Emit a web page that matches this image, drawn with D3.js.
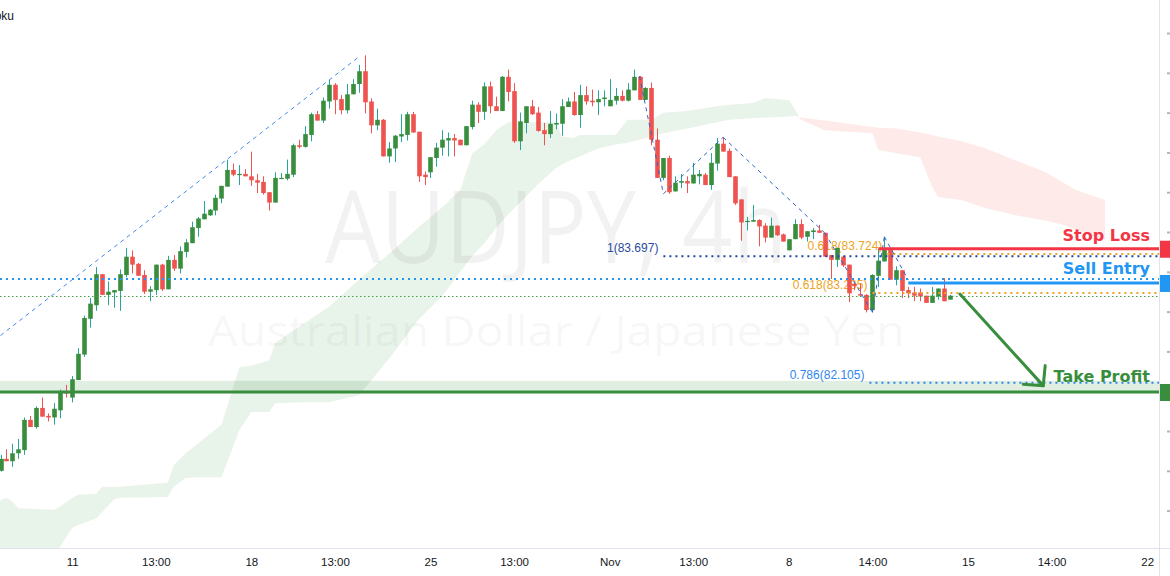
<!DOCTYPE html>
<html>
<head>
<meta charset="utf-8">
<script src="https://cdn.jsdelivr.net/npm/d3@7/dist/d3.min.js"></script>
<style>
html,body{margin:0;padding:0;background:#ffffff;}
svg{display:block;}
</style>
</head>
<body>
<svg id="chart" width="1170" height="576"></svg>
<script>
// ================= DATA =================
const openP = [
81.00,81.15,81.12,81.22,81.26,81.64,81.55,81.79,81.69,81.67,
81.76,81.99,81.92,82.14,82.46,82.91,83.08,83.47,83.21,83.24,
83.26,83.46,83.69,83.60,83.46,83.25,83.27,83.59,83.28,83.65,
83.54,83.75,83.86,84.05,84.16,84.21,84.27,84.42,84.57,84.78,
84.72,84.73,84.70,84.65,84.63,84.50,84.37,84.67,84.67,84.72,
85.09,85.07,85.22,85.48,85.40,85.64,85.85,85.67,85.53,85.73,
85.86,86.02,85.64,85.34,85.41,84.95,85.05,85.20,85.22,85.48,
85.26,84.72,84.75,84.93,85.06,85.15,85.18,85.16,85.09,85.32,
85.60,85.51,85.83,85.58,85.52,85.95,85.77,85.14,85.37,85.58,
85.50,85.28,85.23,85.35,85.36,85.57,85.64,85.47,85.72,85.65,
85.63,85.67,85.58,85.65,85.71,85.65,85.78,85.95,85.66,85.81,
85.16,84.68,84.93,84.51,84.62,84.64,84.61,84.70,84.72,84.59,
84.86,85.11,85.02,84.70,84.41,84.13,84.13,84.15,84.08,83.93,
84.08,83.97,83.77,83.91,84.10,83.94,84.00,84.02,83.99,83.71,
83.65,83.69,83.59,83.35,83.22,83.21,83.02,83.45,83.63,83.78,
83.40,83.52,83.27,83.24,83.24,83.20,83.11,83.19,83.29,83.15];
const highP = [
81.20,81.27,81.34,81.40,81.67,81.69,81.81,81.92,81.72,81.85,
82.02,82.08,82.19,82.54,82.95,83.17,83.56,83.47,83.38,83.27,
83.53,83.80,83.77,83.61,83.52,83.32,83.59,83.60,83.70,83.71,
83.82,83.91,84.13,84.19,84.39,84.29,84.47,84.58,84.91,84.86,
84.84,84.79,85.01,84.73,84.70,84.50,84.75,84.74,84.91,85.11,
85.16,85.33,85.50,85.52,85.69,85.91,85.87,85.72,85.86,85.92,
86.10,86.22,85.68,85.55,85.42,85.13,85.22,85.48,85.51,85.51,
85.26,84.76,84.94,85.12,85.28,85.25,85.23,85.16,85.33,85.65,
85.63,85.88,85.89,85.70,85.96,86.04,85.87,85.50,85.58,85.66,
85.57,85.37,85.52,85.49,85.67,85.69,85.76,85.85,85.83,85.79,
85.78,85.78,85.92,85.81,85.78,85.87,86.04,85.96,85.82,85.88,
85.30,84.93,84.96,84.70,84.73,84.70,84.87,84.78,84.74,84.99,
85.18,85.19,85.05,84.70,84.41,84.19,84.34,84.16,84.11,84.18,
84.08,83.98,83.91,84.16,84.16,84.01,84.05,84.09,83.99,83.71,
83.80,83.70,83.59,83.35,83.35,83.22,83.47,83.79,83.94,83.80,
83.57,83.52,83.31,83.31,83.29,83.20,83.31,83.29,83.42,83.21];
const lowP = [
80.99,81.12,81.05,81.15,81.20,81.55,81.53,81.68,81.62,81.58,
81.66,81.92,81.86,82.14,82.43,82.80,83.01,83.21,83.08,83.05,
83.01,83.43,83.48,83.45,83.22,83.13,83.21,83.26,83.28,83.51,
83.48,83.68,83.86,83.94,84.16,84.20,84.21,84.36,84.57,84.70,
84.59,84.70,84.58,84.49,84.47,84.27,84.37,84.67,84.65,84.69,
85.05,85.06,85.14,85.40,85.37,85.55,85.48,85.48,85.49,85.73,
85.75,85.49,85.24,85.28,84.95,84.87,84.88,85.13,85.15,85.25,
84.63,84.59,84.68,84.82,84.96,84.95,84.95,85.09,85.09,85.29,
85.37,85.41,85.49,85.52,85.52,85.64,85.12,85.03,85.24,85.47,
85.26,85.09,85.18,85.29,85.21,85.57,85.46,85.31,85.60,85.58,
85.47,85.58,85.58,85.60,85.64,85.64,85.78,85.66,85.66,85.09,
84.68,84.65,84.48,84.51,84.55,84.49,84.61,84.60,84.59,84.53,
84.77,85.01,84.69,84.34,83.89,84.02,84.13,83.82,83.87,83.93,
83.95,83.88,83.77,83.91,83.91,83.88,83.91,83.99,83.69,83.41,
83.56,83.56,83.12,83.27,83.20,82.99,82.99,83.31,83.63,83.40,
83.33,83.17,83.17,83.13,83.13,83.11,83.11,83.15,83.13,83.15];
const closeP = [
81.15,81.12,81.22,81.27,81.64,81.55,81.79,81.68,81.67,81.78,
81.99,81.97,82.15,82.47,82.92,83.10,83.47,83.21,83.25,83.27,
83.47,83.69,83.59,83.45,83.25,83.28,83.59,83.28,83.65,83.54,
83.76,83.87,84.06,84.17,84.23,84.28,84.43,84.58,84.78,84.72,
84.73,84.70,84.65,84.62,84.49,84.37,84.68,84.68,84.73,85.09,
85.07,85.23,85.48,85.40,85.65,85.85,85.66,85.53,85.73,85.86,
86.02,85.63,85.34,85.41,84.95,85.05,85.21,85.23,85.48,85.25,
84.70,84.69,84.94,85.06,85.16,85.18,85.15,85.09,85.33,85.60,
85.51,85.83,85.58,85.52,85.95,85.76,85.14,85.39,85.58,85.48,
85.27,85.23,85.36,85.37,85.58,85.64,85.47,85.72,85.64,85.63,
85.67,85.69,85.66,85.71,85.65,85.79,85.95,85.66,85.81,85.16,
84.68,84.93,84.50,84.62,84.64,84.61,84.72,84.73,84.59,84.87,
85.11,85.01,84.69,84.36,84.12,84.14,84.15,84.07,83.93,84.08,
83.96,83.88,83.91,84.10,83.93,84.01,84.02,83.99,83.69,83.65,
83.80,83.58,83.23,83.32,83.20,83.02,83.46,83.64,83.78,83.40,
83.52,83.26,83.23,83.20,83.19,83.11,83.20,83.29,83.13,83.20];

const dayTickIndex = [12,26,42,56,72,86,102,116,132,146,162,176,192];
const dayTickLabel = ["11","13:00","18","13:00","25","13:00","Nov","13:00","8","14:00","15","14:00","22"];
const priceTicks = [86.5,86,85.5,85,84.5,84,83.5,83,82.5,82,81.5,81,80.5];

// Ichimoku cloud (Senkou span A / B, already displaced forward)
const cloudIndex = [-3,0,1,2,3,9,10,12,13,16,17,19,20,28,29,31,33,37,40,42,45,46,50,55,60,65,70,74,77,79,81,83,85,90,93,94,96,97,100,103,105,107,109,111,115,120,122,126,128,132,133,134,135,138,146,147,150,154,156,157,161,165,170,175,178,180,185];
const spanA = [80.63,80.63,80.66,80.61,80.53,80.51,80.55,80.66,80.70,80.71,80.80,80.80,80.80,80.85,81.07,81.22,81.34,81.58,82.30,82.32,82.39,82.61,82.81,83.06,83.40,83.72,84.06,84.31,84.53,84.99,85.10,85.28,85.38,85.38,85.38,85.20,85.18,85.22,85.22,85.22,85.41,85.41,85.41,85.50,85.52,85.58,85.60,85.62,85.68,85.66,85.55,85.41,85.38,85.28,85.24,85.03,84.99,84.94,84.57,84.44,84.40,84.30,84.21,84.14,84.09,84.03,83.90];
const spanB = [79.90,79.90,79.90,79.90,79.90,79.95,80.05,80.28,80.32,80.40,80.48,80.64,80.66,80.67,80.80,80.91,80.92,80.92,81.51,81.74,81.74,81.85,81.86,81.86,81.95,82.40,82.90,83.20,83.50,83.70,83.86,84.05,84.22,84.60,84.80,84.85,84.92,84.95,85.05,85.10,85.12,85.16,85.20,85.24,85.30,85.38,85.41,85.43,85.44,85.45,85.46,85.44,85.43,85.40,85.32,85.31,85.30,85.25,85.22,85.20,85.14,85.05,84.90,84.75,84.62,84.53,84.40];

// Trade levels
const stopLoss = 83.79, stopLossFrom = 147;
const sellEntry = 83.36, sellEntryFrom = 152;
const takeProfit = 81.99, takeProfitZoneTop = 82.13;
const refLineBlue = 83.41, refLineGreen = 83.19;

// Fibonacci levels
const fibLevels = [
  {label:"1(83.697)",     price:83.697, from:111,   color:"#1f46a0", text:"#2a4aa0"},
  {label:"0.618(83.724)", price:83.724, from:148.5, color:"#eea321", text:"#eea321"},
  {label:"0.618(83.235)", price:83.235, from:146,   color:"#eea321", text:"#eea321"},
  {label:"0.786(82.105)", price:82.105, from:145.5, color:"#2f86eb", text:"#2f86eb"}
];
// Fibonacci trend legs [index1, price1, index2, price2]
const fibLegs = [
  [0,82.70,60,86.20],
  [107,85.96,111,84.48],
  [111,84.48,121,85.19],
  [121,85.19,138,83.99],
  [138,83.99,146,82.99],
  [146,82.99,148,83.94],
  [148,83.94,152,83.40]
];
// Projected move arrow [index, price]
const arrowFrom = [160.65, 83.22], arrowTo = [174.6, 82.07];

// ================= LAYOUT =================
const W = 1170, H = 576, plotW = 1159, plotH = 548;
const svg = d3.select("#chart");
const x = d3.scaleLinear().domain([0, 192]).range([0.5, 0.5 + 192 * 5.972]);
const y = d3.scaleLinear().domain([80.03, 86.915]).range([plotH, 0]);

const defs = svg.append("defs");
defs.append("clipPath").attr("id","plotClip").append("rect")
  .attr("x",0).attr("y",0).attr("width",plotW).attr("height",plotH);

const cloudData = cloudIndex.map((d,i)=>({i:d, a:spanA[i], b:spanB[i]}));
defs.append("clipPath").attr("id","belowA").append("path")
  .attr("d", d3.area().x(d=>x(d.i)).y0(plotH+50).y1(d=>y(d.a))(cloudData));
defs.append("clipPath").attr("id","aboveA").append("path")
  .attr("d", d3.area().x(d=>x(d.i)).y0(-50).y1(d=>y(d.a))(cloudData));

const plot = svg.append("g").attr("clip-path","url(#plotClip)");

// Cloud
const band = d3.area().x(d=>x(d.i)).y0(d=>y(d.b)).y1(d=>y(d.a));
plot.append("path").attr("d", band(cloudData)).attr("fill","rgba(67,160,71,0.12)").attr("clip-path","url(#belowA)");
plot.append("path").attr("d", band(cloudData)).attr("fill","rgba(244,67,54,0.11)").attr("clip-path","url(#aboveA)");

// Watermark
plot.append("text").text("AUDJPY, 4h")
  .attr("x",325).attr("y",263).attr("font-family","'Open Sans', sans-serif")
  .attr("font-size",100).attr("textLength",462).attr("lengthAdjust","spacingAndGlyphs")
  .attr("fill","rgba(0,0,0,0.05)");
plot.append("text").text("Australian Dollar / Japanese Yen")
  .attr("x",208).attr("y",346).attr("font-family","'Open Sans', sans-serif")
  .attr("font-size",42).attr("textLength",697).attr("lengthAdjust","spacingAndGlyphs")
  .attr("fill","rgba(0,0,0,0.05)");

// Take profit zone
plot.append("rect").attr("x",0).attr("width",plotW)
  .attr("y",y(takeProfitZoneTop)).attr("height",y(takeProfit)-y(takeProfitZoneTop))
  .attr("fill","rgba(56,142,60,0.15)");

// Fib labels (under candles)
fibLevels.forEach(f=>{
  plot.append("text").text(f.label)
    .attr("x", x(f.from)-5).attr("y", y(f.price)-4)
    .attr("text-anchor","end").attr("font-family","'Liberation Sans', Arial, sans-serif")
    .attr("font-size",12).attr("fill",f.text);
});

// Candles
const candles = openP.map((o,i)=>({i, o, h:highP[i], l:lowP[i], c:closeP[i]}));
const bw = 4.6;
const cg = plot.append("g");
cg.selectAll("line.wick").data(candles).enter().append("line")
  .attr("x1",d=>Math.round(x(d.i))+0.5).attr("x2",d=>Math.round(x(d.i))+0.5)
  .attr("y1",d=>y(d.h)).attr("y2",d=>y(d.l))
  .attr("stroke",d=>d.c>=d.o?"#26a69a":"#ef5350").attr("stroke-width",1);
cg.selectAll("rect.body").data(candles).enter().append("rect")
  .attr("x",d=>Math.round(x(d.i))+0.5-bw/2).attr("width",bw)
  .attr("y",d=>y(Math.max(d.o,d.c)))
  .attr("height",d=>Math.max(1.2, Math.abs(y(d.o)-y(d.c))))
  .attr("fill",d=>d.c>=d.o?"#388e3c":"#ef5350");

// Reference dotted lines (full width)
plot.append("line").attr("x1",0).attr("x2",plotW).attr("y1",y(refLineBlue)).attr("y2",y(refLineBlue))
  .attr("stroke","#2196f3").attr("stroke-width",2).attr("stroke-dasharray","2 4");
plot.append("line").attr("x1",0).attr("x2",plotW).attr("y1",y(refLineGreen)).attr("y2",y(refLineGreen))
  .attr("stroke","#43a047").attr("stroke-width",1.2).attr("stroke-dasharray","1.5 2.5");

// Fib level lines
fibLevels.forEach(f=>{
  plot.append("line").attr("x1",x(f.from)).attr("x2",plotW)
    .attr("y1",y(f.price)).attr("y2",y(f.price))
    .attr("stroke",f.color).attr("stroke-width",2).attr("stroke-dasharray","2 4");
});

// Fib trend legs
fibLegs.forEach((l,k)=>{
  plot.append("line").attr("x1",x(l[0])).attr("y1",y(l[1])).attr("x2",x(l[2])).attr("y2",y(l[3]))
    .attr("stroke", k===0 ? "#3f8ae8" : "#2f63c9").attr("stroke-width",1).attr("stroke-dasharray","4 4");
});

// Trade lines
plot.append("line").attr("x1",0).attr("x2",plotW).attr("y1",y(takeProfit)).attr("y2",y(takeProfit))
  .attr("stroke","#388e3c").attr("stroke-width",3);
plot.append("line").attr("x1",x(stopLossFrom)).attr("x2",plotW).attr("y1",y(stopLoss)).attr("y2",y(stopLoss))
  .attr("stroke","#f23645").attr("stroke-width",3);
plot.append("line").attr("x1",x(sellEntryFrom)).attr("x2",plotW).attr("y1",y(sellEntry)).attr("y2",y(sellEntry))
  .attr("stroke","#2196f3").attr("stroke-width",3);

// Arrow
const ax1 = x(arrowFrom[0]), ay1 = y(arrowFrom[1]), ax2 = x(arrowTo[0]), ay2 = y(arrowTo[1]);
const ag = plot.append("g").attr("stroke","#388e3c").attr("stroke-width",3).attr("stroke-linecap","round").attr("fill","none");
ag.append("line").attr("x1",ax1).attr("y1",ay1).attr("x2",ax2).attr("y2",ay2);
ag.append("line").attr("x1",ax2).attr("y1",ay2).attr("x2",ax2+2).attr("y2",ay2-20);
ag.append("line").attr("x1",ax2).attr("y1",ay2).attr("x2",ax2-20).attr("y2",ay2-1.5);

// Trade labels
const lbl = (t, p, off, col)=> plot.append("text").text(t)
  .attr("x",1150).attr("y",y(p)+off).attr("text-anchor","end")
  .attr("font-family","'DejaVu Sans', Verdana, sans-serif").attr("font-weight","bold")
  .attr("font-size",16).attr("fill",col);
lbl("Stop Loss", stopLoss, -7.5, "#f23645");
lbl("Sell Entry", sellEntry, -9, "#2196f3");
lbl("Take Profit", takeProfit, -9.5, "#388e3c");

// Top-left indicator title (cut off at the window edge, as in the source)
svg.append("text").text("Ichimoku").attr("x",14).attr("y",20).attr("text-anchor","end")
  .attr("font-family","'Liberation Sans', Arial, sans-serif").attr("font-size",12).attr("fill","#131722");

// Axes frame
svg.append("line").attr("x1",plotW+0.5).attr("x2",plotW+0.5).attr("y1",0).attr("y2",H).attr("stroke","#e0e3eb");
svg.append("line").attr("x1",0).attr("x2",W).attr("y1",plotH+0.5).attr("y2",plotH+0.5).attr("stroke","#e0e3eb");

// Bottom axis
const xAxis = d3.axisBottom(x).tickValues(dayTickIndex).tickFormat((d,i)=>dayTickLabel[i]).tickSize(0).tickPadding(10);
const gx = svg.append("g").attr("transform",`translate(0,${plotH})`).call(xAxis);
gx.select(".domain").remove();
gx.selectAll("text").attr("font-family","'Liberation Sans', Arial, sans-serif").attr("font-size",11.5).attr("fill","#131722");

// Right axis (labels are cut off at the window edge; only tick stubs visible)
const yAxis = d3.axisRight(y).tickValues(priceTicks).tickFormat("").tickSize(3);
const gy = svg.append("g").attr("transform",`translate(${W-3},0)`).call(yAxis);
gy.select(".domain").remove();
gy.selectAll("line").attr("stroke","#b2b5be").attr("stroke-width",2);

// Price tags on the right axis
[[stopLoss,"#f23645"],[sellEntry,"#2196f3"],[takeProfit,"#388e3c"]].forEach(([p,c])=>{
  svg.append("rect").attr("x",plotW+1).attr("width",W-plotW-1).attr("y",y(p)-8).attr("height",17).attr("fill",c);
});
</script>
</body>
</html>
